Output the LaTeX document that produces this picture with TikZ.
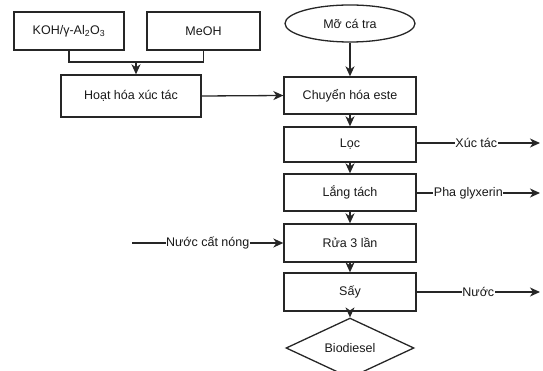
\documentclass[tikz,border=0pt]{standalone}
\usepackage{fontspec}
\setmainfont{Liberation Sans}
\usetikzlibrary{shapes.geometric,arrows.meta}
\begin{document}
\begin{tikzpicture}[x=1pt,y=-1pt,
  every node/.style={font=\fontsize{12.5}{14}\selectfont, text=black!90},
  box/.style={draw=black!85, line width=1.3pt, rectangle, inner sep=0pt, minimum width=132pt},
  conn/.style={draw=black!85, line width=1.3pt},
  arr/.style={conn, -{Stealth[length=10pt,width=9pt,inset=3pt]}},
  lab/.style={fill=white, inner sep=0.5pt}]
\useasboundingbox (0,0) rectangle (543,371);
% top inputs
\node[box, minimum width=110pt, minimum height=38pt] (koh) at (69,31) {KOH/γ-Al\textsubscript{2}O\textsubscript{3}};
\node[box, minimum width=113pt, minimum height=38pt] (meoh) at (203.5,31) {MeOH};
\node[box, minimum width=140pt, minimum height=42pt] (hoat) at (131,96) {Hoạt hóa xúc tác};
% main column
\node[draw=black!85, line width=1.3pt, ellipse, minimum width=130pt, minimum height=37pt, inner sep=0pt] (mo) at (350,23.5) {Mỡ cá tra};
\node[box, minimum height=37pt] (chuyen) at (350,95.5) {Chuyển hóa este};
\node[box, minimum height=35pt] (loc) at (350,144.5) {Lọc};
\node[box, minimum height=37pt] (lang) at (350,192.5) {Lắng tách};
\node[box, minimum height=38pt] (rua) at (350,243) {Rửa 3 lần};
\node[box, minimum height=38pt] (say) at (350,292) {Sấy};
\node[draw=black!85, line width=1.3pt, diamond, minimum width=128pt, minimum height=47pt, inner sep=0pt] (bio) at (350,348) {Biodiesel};
% join of inputs
\coordinate (j1) at (69,62);
\coordinate (j2) at (203.5,62);
\coordinate (jm) at (136,62);
\draw[conn] (koh.south) -- (j1) -- (j2) -- (meoh.south);
\draw[arr] (jm) -- (jm |- hoat.north);
\draw[arr] (hoat.east) -- (chuyen.west);
% vertical flow
\draw[arr] (mo.south) -- (chuyen.north);
\draw[arr] (chuyen.south) -- (loc.north);
\draw[arr] (loc.south) -- (lang.north);
\draw[arr] (lang.south) -- (rua.north);
\draw[arr] (rua.south) -- (say.north);
\draw[arr] (say.south) -- (bio.north);
% side streams
\coordinate (o1) at (540,143);
\coordinate (o2) at (540,193);
\coordinate (o3) at (540,292);
\coordinate (i1) at (132,243);
\draw[arr] (loc.east |- o1) -- node[lab, xshift=-2pt] (l1) {Xúc tác} (o1);
\draw[arr] (lang.east |- o2) -- node[lab, xshift=-10pt] (l2) {Pha glyxerin} (o2);
\draw[arr] (say.east |- o3) -- node[lab] (l3) {Nước} (o3);
\draw[arr] (i1) -- node[lab] (l4) {Nước cất nóng} (rua.west |- i1);
\end{tikzpicture}
\end{document}
